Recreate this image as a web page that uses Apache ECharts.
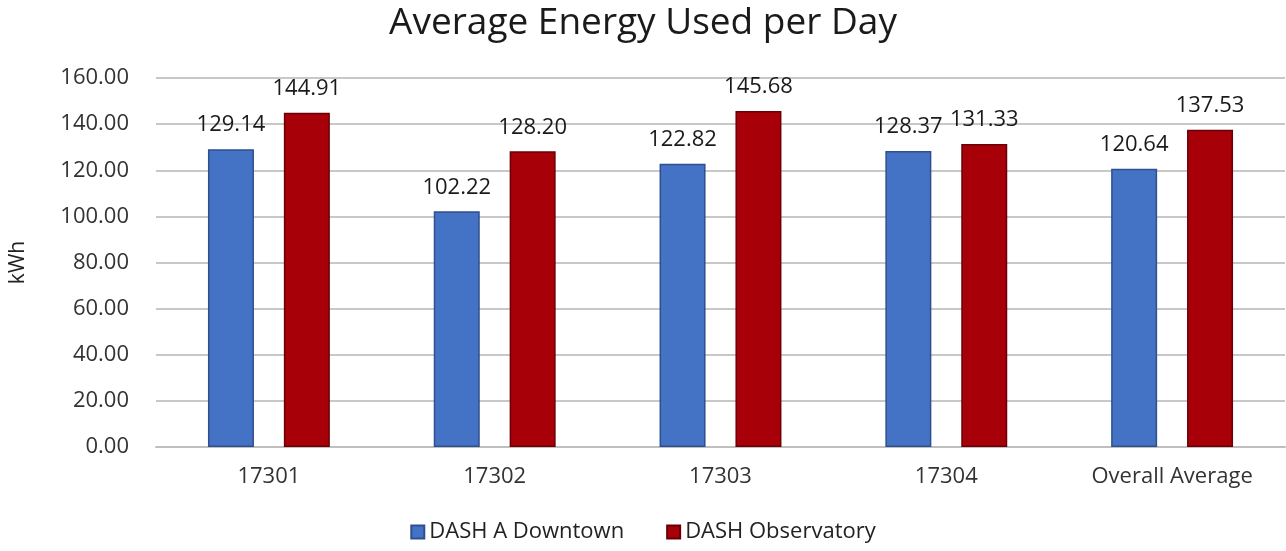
<!DOCTYPE html>
<html>
<head>
<meta charset="utf-8">
<script src="https://cdn.jsdelivr.net/npm/echarts@6/dist/echarts.min.js"></script>
<style>
  html, body { margin: 0; padding: 0; background: #fff; }
  #chart { width: 1286px; height: 551px; }
</style>
</head>
<body>
<div id="chart"></div>
<script>
// data
const categories = ['17301', '17302', '17303', '17304', 'Overall Average']
const downtown = [129.14, 102.22, 122.82, 128.37, 120.64]
const observatory = [144.91, 128.2, 145.68, 131.33, 137.53]
const seriesNames = ['DASH A Downtown', 'DASH Observatory']

const FONT = '"Open Sans", "Noto Sans", sans-serif'

const barLabel = {
  show: true,
  position: 'top',
  distance: 13,
  color: '#1a1a1a',
  fontSize: 22,
  fontFamily: FONT,
  formatter: p => p.value.toFixed(2)
}

const chart = echarts.init(document.getElementById('chart'))
chart.setOption({
  animation: false,
  backgroundColor: '#fff',
  title: {
    text: 'Average Energy Used per Day',
    left: 'center',
    top: 0,
    textStyle: { fontFamily: FONT, fontSize: 37, fontWeight: 'normal', color: '#1a1a1a' }
  },
  legend: {
    bottom: 3,
    left: 'center',
    itemWidth: 13,
    itemHeight: 13,
    itemGap: 42,
    icon: 'rect',
    textStyle: { fontFamily: FONT, fontSize: 22, color: '#222' },
    data: seriesNames
  },
  grid: { left: 155, right: 1, top: 78, bottom: 104 },
  xAxis: {
    type: 'category',
    data: categories,
    axisTick: { show: false },
    axisLine: { lineStyle: { color: '#bfbfbf', width: 2 } },
    axisLabel: { fontFamily: FONT, fontSize: 22, color: '#333', margin: 19 }
  },
  yAxis: {
    type: 'value',
    min: 0,
    max: 160,
    interval: 20,
    name: 'kWh',
    nameLocation: 'middle',
    nameGap: 127,
    nameTextStyle: { fontFamily: FONT, fontSize: 21, color: '#222' },
    axisLabel: {
      fontFamily: FONT, fontSize: 22, color: '#333', margin: 27,
      formatter: v => v.toFixed(2)
    },
    splitLine: { lineStyle: { color: '#c8c8c8', width: 2 } },
    axisLine: { show: false },
    axisTick: { show: false }
  },
  series: [
    {
      name: seriesNames[0],
      type: 'bar',
      barWidth: 46,
      barGap: '65%',
      data: downtown,
      itemStyle: { color: '#4472C4', borderColor: '#2F4F8F', borderWidth: 1.5 },
      label: barLabel
    },
    {
      name: seriesNames[1],
      type: 'bar',
      barWidth: 46,
      barGap: '65%',
      data: observatory,
      itemStyle: { color: '#A80008', borderColor: '#6A0006', borderWidth: 1.5 },
      label: barLabel
    }
  ]
})
</script>
</body>
</html>
